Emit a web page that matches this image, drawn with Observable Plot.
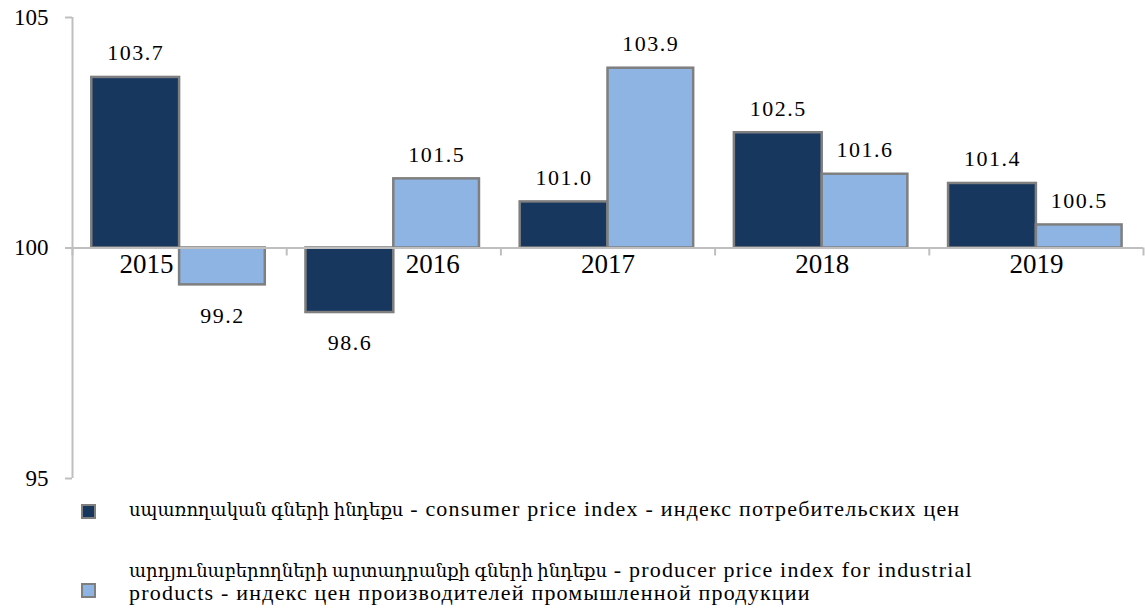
<!DOCTYPE html>
<html>
<head>
<meta charset="utf-8">
<script src="https://cdn.jsdelivr.net/npm/d3@7"></script>
<script src="https://cdn.jsdelivr.net/npm/@observablehq/plot@0.6"></script>
<style>
  html, body { margin: 0; padding: 0; background: #fff; }
  #wrap { position: relative; width: 1145px; height: 614px; font-family: "Liberation Serif", "DejaVu Serif", serif; color: #000; }
  #chart svg { display: block; }
  #chart svg text { font-family: "Liberation Serif", "DejaVu Serif", serif !important; }
  g[font-size="22"] text { letter-spacing: 1.5px; }
  .sw { position: absolute; left: 81px; width: 11px; height: 11px; border: 2px solid #7f7f7f; }
  .lt { position: absolute; left: 129px; font-size: 22px; line-height: 22px; letter-spacing: 1.2px; white-space: nowrap; }
  .lt .hy { font-size: 18px; letter-spacing: 0; }
</style>
</head>
<body>
<div id="wrap">
  <div id="chart"></div>
  <div id="legend"></div>
</div>
<script>
const years = ["2015", "2016", "2017", "2018", "2019"];
const cpi = [103.7, 98.6, 101.0, 102.5, 101.4];
const ppi = [99.2, 101.5, 103.9, 101.6, 100.5];
const yTicks = [95, 100, 105];
const seriesHy = ["սպառողական գների ինդեքս", "արդյունաբերողների արտադրանքի գների ինդեքս"];
const seriesRest = [
  " - consumer price index - индекс потребительских цен",
  " - producer price index for industrial<br>products - индекс цен производителей промышленной продукции"
];
const colors = ["#17375E", "#8EB4E3"];

const W = 1145, H = 492, mT = 17, mB = 14, mL = 72, mR = 2;
const pxPerUnit = (H - mT - mB) / (yTicks[2] - yTicks[0]);
const serif = "Liberation Serif, DejaVu Serif, serif";

const rows = years.map((y, i) => ({ i, year: y, cpi: cpi[i], ppi: ppi[i] }));
const bars = rows.flatMap(r => [
  { i: r.i, s: 0, v: r.cpi, x1: r.i + 0.09, x2: r.i + 0.5 },
  { i: r.i, s: 1, v: r.ppi, x1: r.i + 0.5, x2: r.i + 0.9 }
]);
const labelsUp = bars.filter(b => b.v >= 100);
const labelsDown = bars.filter(b => b.v < 100);
const bounds = d3.range(years.length + 1);

const yrMid = rows.filter(r => r.cpi >= 100 && r.ppi >= 100);
const yrLeft = rows.filter(r => r.ppi < 100);
const yrRight = rows.filter(r => r.cpi < 100);

const grey = "#BFBFBF";
const plot = Plot.plot({
  width: W, height: H,
  marginTop: mT, marginBottom: mB, marginLeft: mL, marginRight: mR,
  style: { fontFamily: serif, color: "#000", background: "#fff" },
  x: { domain: [0, years.length], axis: null },
  y: { domain: [yTicks[0], yTicks[2]], axis: null },
  marks: [
    Plot.rect(bars, {
      x1: "x1", x2: "x2", y1: 100, y2: "v",
      fill: d => colors[d.s], stroke: "#7f7f7f", strokeWidth: 2.5
    }),
    Plot.ruleY([100], { stroke: grey, strokeWidth: 2 }),
    Plot.ruleX(bounds, { x: d => d, y1: 100, y2: 100 - 8 / pxPerUnit, stroke: grey, strokeWidth: 2 }),
    Plot.ruleX([0], { y1: yTicks[0], y2: yTicks[2], stroke: grey, strokeWidth: 2 }),
    Plot.axisY({
      ticks: yTicks, tickSize: 7, tickPadding: 17, stroke: grey, strokeWidth: 2,
      color: "#000", fill: "#000", fontSize: 23, fontFamily: serif, label: null, tickFormat: d => String(d)
    }),
    Plot.text(labelsUp, {
      x: d => (d.x1 + d.x2) / 2, y: "v", text: d => d.v.toFixed(1),
      lineAnchor: "bottom", dy: -17, fontSize: 22, fontFamily: serif, fill: "#000"
    }),
    Plot.text(labelsDown, {
      x: d => (d.x1 + d.x2) / 2, y: "v", text: d => d.v.toFixed(1),
      lineAnchor: "top", dy: 22, fontSize: 22, fontFamily: serif, fill: "#000"
    }),
    Plot.text(yrMid, { x: d => d.i + 0.5, y: 100, text: "year", lineAnchor: "bottom", dy: 25, fontSize: 27, fontFamily: serif, fill: "#000" }),
    Plot.text(yrLeft, { x: d => d.i + 0.5, y: 100, text: "year", lineAnchor: "bottom", dy: 25, dx: -6, textAnchor: "end", fontSize: 27, fontFamily: serif, fill: "#000" }),
    Plot.text(yrRight, { x: d => d.i + 0.5, y: 100, text: "year", lineAnchor: "bottom", dy: 25, dx: 12, textAnchor: "start", fontSize: 27, fontFamily: serif, fill: "#000" })
  ]
});
document.getElementById("chart").appendChild(plot);

const legend = document.getElementById("legend");
const swTops = [504, 583];
const txtTops = [498, 559];
seriesHy.forEach((hy, k) => {
  const sw = document.createElement("div");
  sw.className = "sw";
  sw.style.top = swTops[k] + "px";
  sw.style.background = colors[k];
  legend.appendChild(sw);
  const t = document.createElement("div");
  t.className = "lt";
  t.style.top = txtTops[k] + "px";
  t.innerHTML = '<span class="hy">' + hy + '</span>' + seriesRest[k];
  legend.appendChild(t);
});
</script>
</body>
</html>
